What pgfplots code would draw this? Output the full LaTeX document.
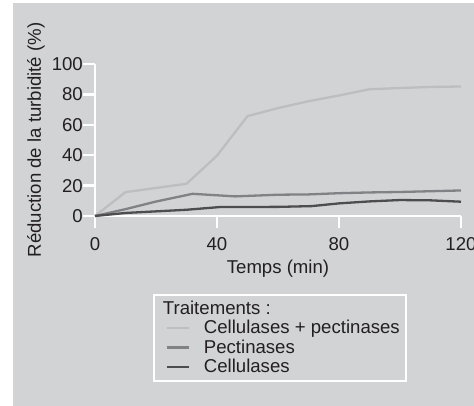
\documentclass[border=0pt]{standalone}
\usepackage{pgfplots}
\pgfplotsset{compat=1.18}
\usepackage{fontspec}
\setmainfont{Liberation Sans}
\definecolor{bg}{HTML}{D1D3D4}
\definecolor{txt}{HTML}{231F20}
\definecolor{grlight}{HTML}{BCBEC0}
\definecolor{grmid}{HTML}{808285}
\definecolor{grdark}{HTML}{4D4D4F}
\begin{document}
\begin{tikzpicture}
\useasboundingbox (-95pt,-190pt) rectangle (379pt,216pt);
\fill[white] (-95pt,-190pt) rectangle (379pt,216pt);
\fill[bg] (-82pt,-190pt) rectangle (379pt,213pt);
\begin{axis}[
  at={(0,0)}, anchor=south west,
  scale only axis, width=366pt, height=152pt,
  xmin=0, xmax=120, ymin=0, ymax=100,
  xtick={0,40,80,120}, ytick={0,20,40,60,80,100},
  axis x line=bottom, axis y line=left,
  axis line style={-, white, line width=2.5pt},
  tick align=outside, major tick length=12pt,
  tick style={white, line width=2.5pt},
  clip=false,
  /pgf/number format/assume math mode=true,
  font=\fontsize{18.6}{21}\selectfont,
  every tick label/.append style={text=txt},
  yticklabel style={anchor=east, inner sep=0pt},
  xticklabel style={anchor=north, inner sep=0pt, yshift=-9pt},
  every axis y label/.style={at={(axis description cs:-0.1612,0.5)}, rotate=90, anchor=center, text=txt},
  every axis x label/.style={at={(axis description cs:0.5,-0.345)}, anchor=center, text=txt},
  xlabel={Temps (min)},
  ylabel={Réduction de la turbidité (\%)},
  legend style={at={(axis description cs:0.1585,-0.5132)}, anchor=north west,
    draw=white, line width=1.5pt, fill=none, text=txt,
    inner xsep=6pt, inner ysep=4pt, row sep=0pt, column sep=14pt,
    font=\fontsize{18.6}{21}\selectfont,
    nodes={inner sep=0pt, text height=15.5pt, text depth=4pt}},
  legend cell align=left,
  legend image code/.code={\draw[#1] (7pt,0pt) -- (29pt,0pt);},
]
\addlegendimage{empty legend}
\addlegendentry{\hspace{-41pt}Traitements :}
\addplot[grlight, line width=2.3pt] coordinates {
(0,0) (10,15.7) (30,21.2) (40,39.7) (50,65.7) (60,71) (70,75.5) (80,79.3) (90,83.4) (100,84.2) (110,84.9) (120,85.2)};
\addlegendentry{Cellulases + pectinases}
\addplot[grmid, line width=2.3pt] coordinates {
(0,0) (10,4.5) (20,9.5) (32,14.6) (46,12.9) (60,14) (70,14.2) (80,15) (90,15.5) (100,15.8) (110,16.3) (120,16.8)};
\addlegendentry{Pectinases}
\addplot[grdark, line width=2.3pt] coordinates {
(0,0) (10,2) (30,4.1) (41,5.9) (60,6) (71,6.5) (80,8.3) (90,9.6) (100,10.5) (110,10.3) (120,9.4)};
\addlegendentry{Cellulases}
\end{axis}
\end{tikzpicture}
\end{document}
